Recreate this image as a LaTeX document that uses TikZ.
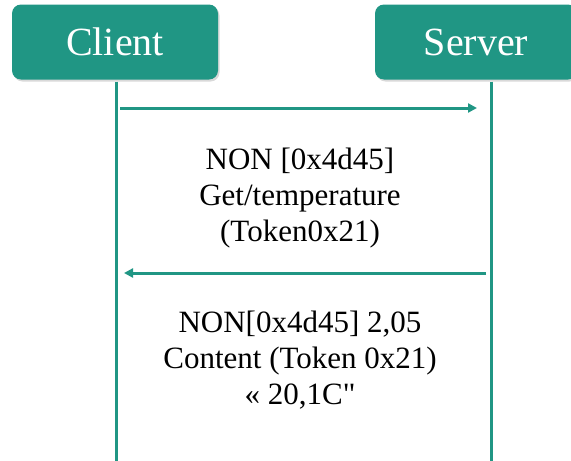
\documentclass[tikz,border=0pt]{standalone}
\usepackage{fontspec}
\setmainfont{Liberation Serif}
\usetikzlibrary{arrows.meta,shadows}
\definecolor{coapteal}{RGB}{32,150,132}
\tikzset{
	actor/.style={fill=coapteal, rounded corners=9pt, minimum width=206pt, minimum height=75pt,
		text=white, font=\fontsize{40}{44}\selectfont,
		drop shadow={opacity=0.3, shadow xshift=1.5pt, shadow yshift=-2pt}},
	lifeline/.style={draw=coapteal, line width=3pt},
	msg/.style={draw=coapteal, line width=3pt, -{Triangle[length=9pt,width=9pt]}},
	msgtext/.style={align=center, font=\fontsize{31}{36}\selectfont}
}

\begin{document}
\begin{tikzpicture}[x=1pt,y=-1pt]
			%%%%% START %%%%%
			\useasboundingbox (0,0) rectangle (571,461);
			
			\node[actor] (client) at (115,42) {Client};
			\node[actor, minimum width=202pt] (server) at (476,42) {Server};
			
			\coordinate (clientend) at (116,461);
			\coordinate (serverend) at (491,461);
			\draw[lifeline] (client.south -| clientend) ++(0,2) -- (clientend);
			\draw[lifeline] (server.south -| serverend) ++(0,2) -- (serverend);
			
			\coordinate (reqfrom) at (120,108);
			\coordinate (reqto) at (477,108);
			\draw[msg] (reqfrom) -- (reqto);
			\node[msgtext] (reqlabel) at (300,198) {NON [0x4d45]\\Get/temperature\\(Token0x21)};
			
			\coordinate (resfrom) at (486,273);
			\coordinate (resto) at (124,273);
			\draw[msg] (resfrom) -- (resto);
			\node[msgtext] (reslabel) at (300,360) {NON[0x4d45] 2,05\\Content (Token 0x21)\\« 20,1C\textquotedbl};
			
			%%%%% END %%%%%
\end{tikzpicture}
\end{document}
